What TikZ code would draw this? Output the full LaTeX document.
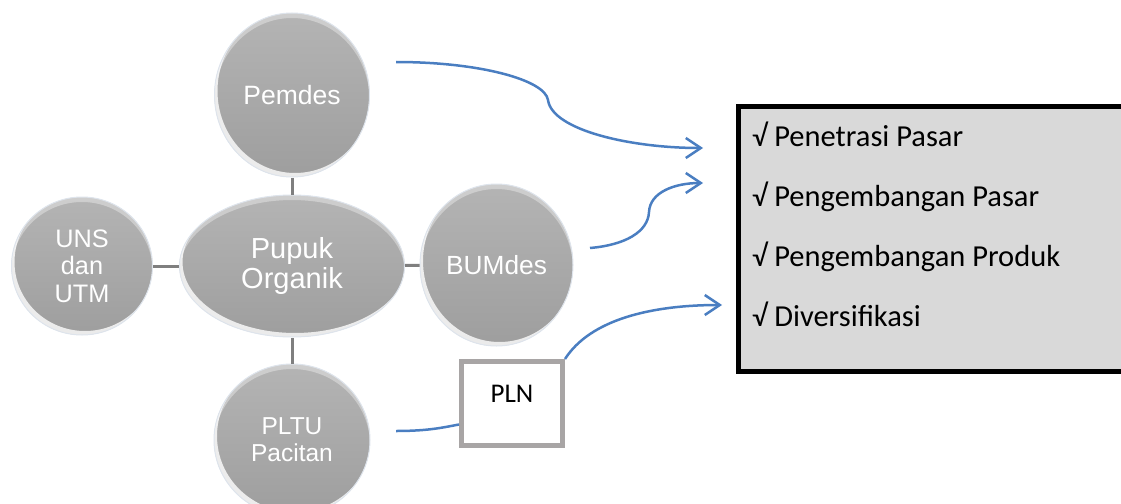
\documentclass[tikz,border=0pt]{standalone}
\usepackage{fontspec}
\setmainfont{Liberation Sans}
\newfontfamily\calibri{Carlito}
\usetikzlibrary{shapes.geometric,arrows.meta,calc}

\definecolor{ballTop}{RGB}{180,180,180}
\definecolor{ballBot}{RGB}{158,158,158}
\definecolor{ballRim}{RGB}{222,228,236}
\definecolor{linkgray}{RGB}{127,127,127}
\definecolor{flowblue}{RGB}{74,126,193}
\definecolor{boxgray}{RGB}{217,217,217}
\definecolor{plngray}{RGB}{168,165,165}

\begin{document}
\begin{tikzpicture}[x=1pt, y=-1pt,
  ball/.style={ellipse, inner sep=0pt, align=center, text=white,
    draw=ballRim, line width=1pt, top color=ballTop, bottom color=ballBot,
    path picture={
      \fill[white, opacity=.8, even odd rule]
        let \p1=(path picture bounding box.north east),
            \p2=(path picture bounding box.center) in
        (\p2) ellipse ({\x1-\x2} and {\y1-\y2})
        ([shift={(3pt,4pt)}]\p2) ellipse ({\x1-\x2} and {\y1-\y2});
      \fill[white, opacity=.35, even odd rule]
        let \p1=(path picture bounding box.north east),
            \p2=(path picture bounding box.center) in
        (\p2) ellipse ({\x1-\x2} and {\y1-\y2})
        ([shift={(0pt,-5pt)}]\p2) ellipse ({\x1-\x2} and {\y1-\y2});
    }},
  link/.style={draw=linkgray, line width=3pt},
  flow/.style={draw=flowblue, line width=2.5pt, -{Straight Barb[length=15pt, width=20pt]}},
  item/.style={anchor=base west, inner sep=0pt, font=\calibri\fontsize{30.5}{36}\selectfont}
]
  \useasboundingbox (0,0) rectangle (1121,503);
  \clip (0,0) rectangle (1121,503);

  % Bulatan
  \node[ball, minimum width=155pt, minimum height=164pt, font=\fontsize{26.5}{30}\selectfont] (pemdes) at (292,95) {Pemdes};
  \node[ball, minimum width=141pt, minimum height=138pt, font=\fontsize{25.3}{27.5}\selectfont] (uns) at (82,266) {UNS\\dan\\UTM};
  \node[ball, minimum width=225pt, minimum height=142pt, font=\fontsize{29}{30}\selectfont] (pupuk) at (292,266) {Pupuk\\Organik};
  \node[ball, minimum width=153pt, minimum height=162pt, font=\fontsize{26.3}{30}\selectfont] (bumdes) at (496.5,265) {BUMdes};
  \node[ball, minimum width=156pt, minimum height=152pt, font=\fontsize{24.5}{27}\selectfont] (pltu) at (292,440) {PLTU\\Pacitan};

  % Garis penghubung
  \draw[link] (pemdes) -- (pupuk);
  \draw[link] (uns) -- (pupuk);
  \draw[link] (pupuk) -- (bumdes);
  \draw[link] (pupuk) -- (pltu);

  % Kotak PLN
  \node[draw=plngray, fill=white, line width=5pt, minimum width=101pt, minimum height=84pt,
        text height=20pt, text depth=23pt, font=\calibri\fontsize{27}{30}\selectfont] (pln) at (512,403.5) {PLN};

  % Kotak strategi (sisi kanan terpotong)
  \node[fill=boxgray, outer sep=0pt, anchor=north west,
        minimum width=440pt, minimum height=265pt] (strategi) at (738.5,106.5) {};
  \draw[line width=5pt, line join=miter] (strategi.north east) -- (strategi.north west)
        -- (strategi.south west) -- (strategi.south east);
  \foreach \i/\txt in {1/Penetrasi Pasar, 2/Pengembangan Pasar, 3/Pengembangan Produk, 4/Diversifikasi} {
    \node[item] (item\i) at (752,86+60*\i) {√ \txt};
  }

  % Panah
  \coordinate (pemdesOut) at (396,62);
  \coordinate (bumdesOut) at (590,248);
  \coordinate (pltuOut) at (396,431);
  \coordinate (tipA) at (703,148);
  \coordinate (tipB) at (703,183);
  \coordinate (tipC) at (722,305);

  \draw[flow] (pemdesOut) .. controls (480,62) and (545,80) .. (548,100)
                          .. controls (552,130) and (630,148) .. (tipA);
  \draw[flow] (bumdesOut) .. controls (625,245) and (648,232) .. (649,212)
                          .. controls (650,192) and (675,183) .. (tipB);
  \draw[flow] (pln.north east) .. controls (590,320) and (650,305) .. (tipC);
  \draw[draw=flowblue, line width=2.5pt] (pltuOut) .. controls (430,431) and (445,427) .. ([yshift=-21pt]pln.west);

\end{tikzpicture}
\end{document}
